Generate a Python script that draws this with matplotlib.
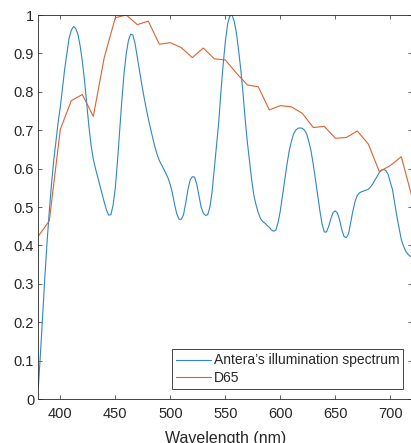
import numpy as np
import matplotlib
matplotlib.use("Agg")
import matplotlib.pyplot as plt

plt.rcParams['font.family'] = ['Liberation Sans', 'DejaVu Sans']

# measured illumination spectrum (normalised)
antera_wl = [380, 382, 384, 386, 388, 390, 392, 394, 396, 398,
             400, 402, 404, 406, 408, 410, 412, 414, 416, 418,
             420, 422, 424, 426, 428, 430, 432, 434, 436, 438,
             440, 442, 444, 446, 448, 450, 452, 454, 456, 458,
             460, 462, 464, 466, 468, 470, 472, 474, 476, 478,
             480, 482, 484, 486, 488, 490, 492, 494, 496, 498,
             500, 502, 504, 506, 508, 510, 512, 514, 516, 518,
             520, 522, 524, 526, 528, 530, 532, 534, 536, 538,
             540, 542, 544, 546, 548, 550, 552, 554, 556, 558,
             560, 562, 564, 566, 568, 570, 572, 574, 576, 578,
             580, 582, 584, 586, 588, 590, 592, 594, 596, 598,
             600, 602, 604, 606, 608, 610, 612, 614, 616, 618,
             620, 622, 624, 626, 628, 630, 632, 634, 636, 638,
             640, 642, 644, 646, 648, 650, 652, 654, 656, 658,
             660, 662, 664, 666, 668, 670, 672, 674, 676, 678,
             680, 682, 684, 686, 688, 690, 692, 694, 696, 698,
             700, 702, 704, 706, 708, 710, 712, 714, 716, 718, 720]
antera = [0.03, 0.12, 0.22, 0.32, 0.41, 0.49, 0.56, 0.62, 0.67, 0.72,
          0.76, 0.81, 0.86, 0.90, 0.94, 0.96, 0.97, 0.965, 0.95, 0.92,
          0.88, 0.83, 0.77, 0.71, 0.66, 0.625, 0.60, 0.578, 0.557, 0.535,
          0.512, 0.492, 0.479, 0.48, 0.505, 0.55, 0.62, 0.70, 0.78, 0.85,
          0.90, 0.935, 0.95, 0.948, 0.925, 0.89, 0.855, 0.82, 0.788, 0.758,
          0.73, 0.705, 0.68, 0.657, 0.637, 0.621, 0.61, 0.599, 0.587, 0.575,
          0.558, 0.535, 0.505, 0.481, 0.468, 0.468, 0.48, 0.51, 0.545, 0.57,
          0.579, 0.578, 0.56, 0.53, 0.50, 0.484, 0.478, 0.48, 0.50, 0.54,
          0.60, 0.66, 0.72, 0.80, 0.87, 0.93, 0.975, 0.997, 1.0, 0.985,
          0.955, 0.91, 0.86, 0.80, 0.73, 0.67, 0.62, 0.57, 0.53, 0.505,
          0.485, 0.47, 0.462, 0.458, 0.452, 0.447, 0.44, 0.437, 0.44, 0.46,
          0.49, 0.53, 0.57, 0.61, 0.645, 0.67, 0.69, 0.70, 0.705, 0.706,
          0.705, 0.70, 0.69, 0.67, 0.645, 0.61, 0.57, 0.53, 0.49, 0.455,
          0.435, 0.435, 0.45, 0.47, 0.486, 0.49, 0.484, 0.465, 0.44, 0.423,
          0.42, 0.43, 0.46, 0.49, 0.515, 0.53, 0.537, 0.54, 0.542, 0.544,
          0.546, 0.552, 0.56, 0.57, 0.58, 0.59, 0.596, 0.598, 0.595, 0.585,
          0.565, 0.545, 0.51, 0.475, 0.445, 0.415, 0.398, 0.385, 0.377, 0.372, 0.37]

# CIE D65, 10 nm steps, normalised to its maximum
d65_wl = list(range(380, 721, 10))
d65 = [0.424, 0.464, 0.702, 0.777, 0.793, 0.736, 0.890, 0.993, 1.0, 0.975,
       0.984, 0.924, 0.928, 0.915, 0.889, 0.914, 0.886, 0.883, 0.849, 0.818,
       0.813, 0.753, 0.764, 0.761, 0.744, 0.707, 0.710, 0.679, 0.681, 0.698,
       0.664, 0.592, 0.608, 0.631, 0.523]

xticks = [400, 450, 500, 550, 600, 650, 700]
yticks = [0, 0.1, 0.2, 0.3, 0.4, 0.5, 0.6, 0.7, 0.8, 0.9, 1]
ytick_labels = ['0', '0.1', '0.2', '0.3', '0.4', '0.5', '0.6', '0.7', '0.8', '0.9', '1']

dark = '#262626'

fig = plt.figure(figsize=(4.11, 4.43), dpi=100)
ax = fig.add_axes([0.0932, 0.0993, 0.91, 0.8668])

ax.plot(antera_wl, antera, color='#2f86c8', lw=0.8, label='Antera\u2019s illumination spectrum')
ax.plot(d65_wl, d65, color='#DD6230', lw=0.8, label='D65')

ax.set_xlim(380, 720)
ax.set_ylim(0, 1)
ax.set_xticks(xticks)
ax.set_yticks(yticks)
ax.set_yticklabels(ytick_labels)

ax.tick_params(direction='in', length=3, width=0.5, colors=dark, labelsize=10.5,
               top=True, right=True)
ax.tick_params(axis='x', pad=6)
ax.tick_params(axis='y', pad=3)
for s in ax.spines.values():
    s.set_color(dark)
    s.set_linewidth(0.6)

ax.set_xlabel('Wavelength (nm)', fontsize=11.5, color=dark, labelpad=7)

leg = ax.legend(loc='lower right', bbox_to_anchor=(0.976, 0.026), borderaxespad=0,
                fontsize=10, fancybox=False, framealpha=1, edgecolor=dark,
                handlelength=2.5, handletextpad=0.2, borderpad=0.3, labelspacing=0.25)
leg.get_frame().set_linewidth(0.6)
for t in leg.get_texts():
    t.set_color(dark)

fig.savefig('out.png', dpi=100)
